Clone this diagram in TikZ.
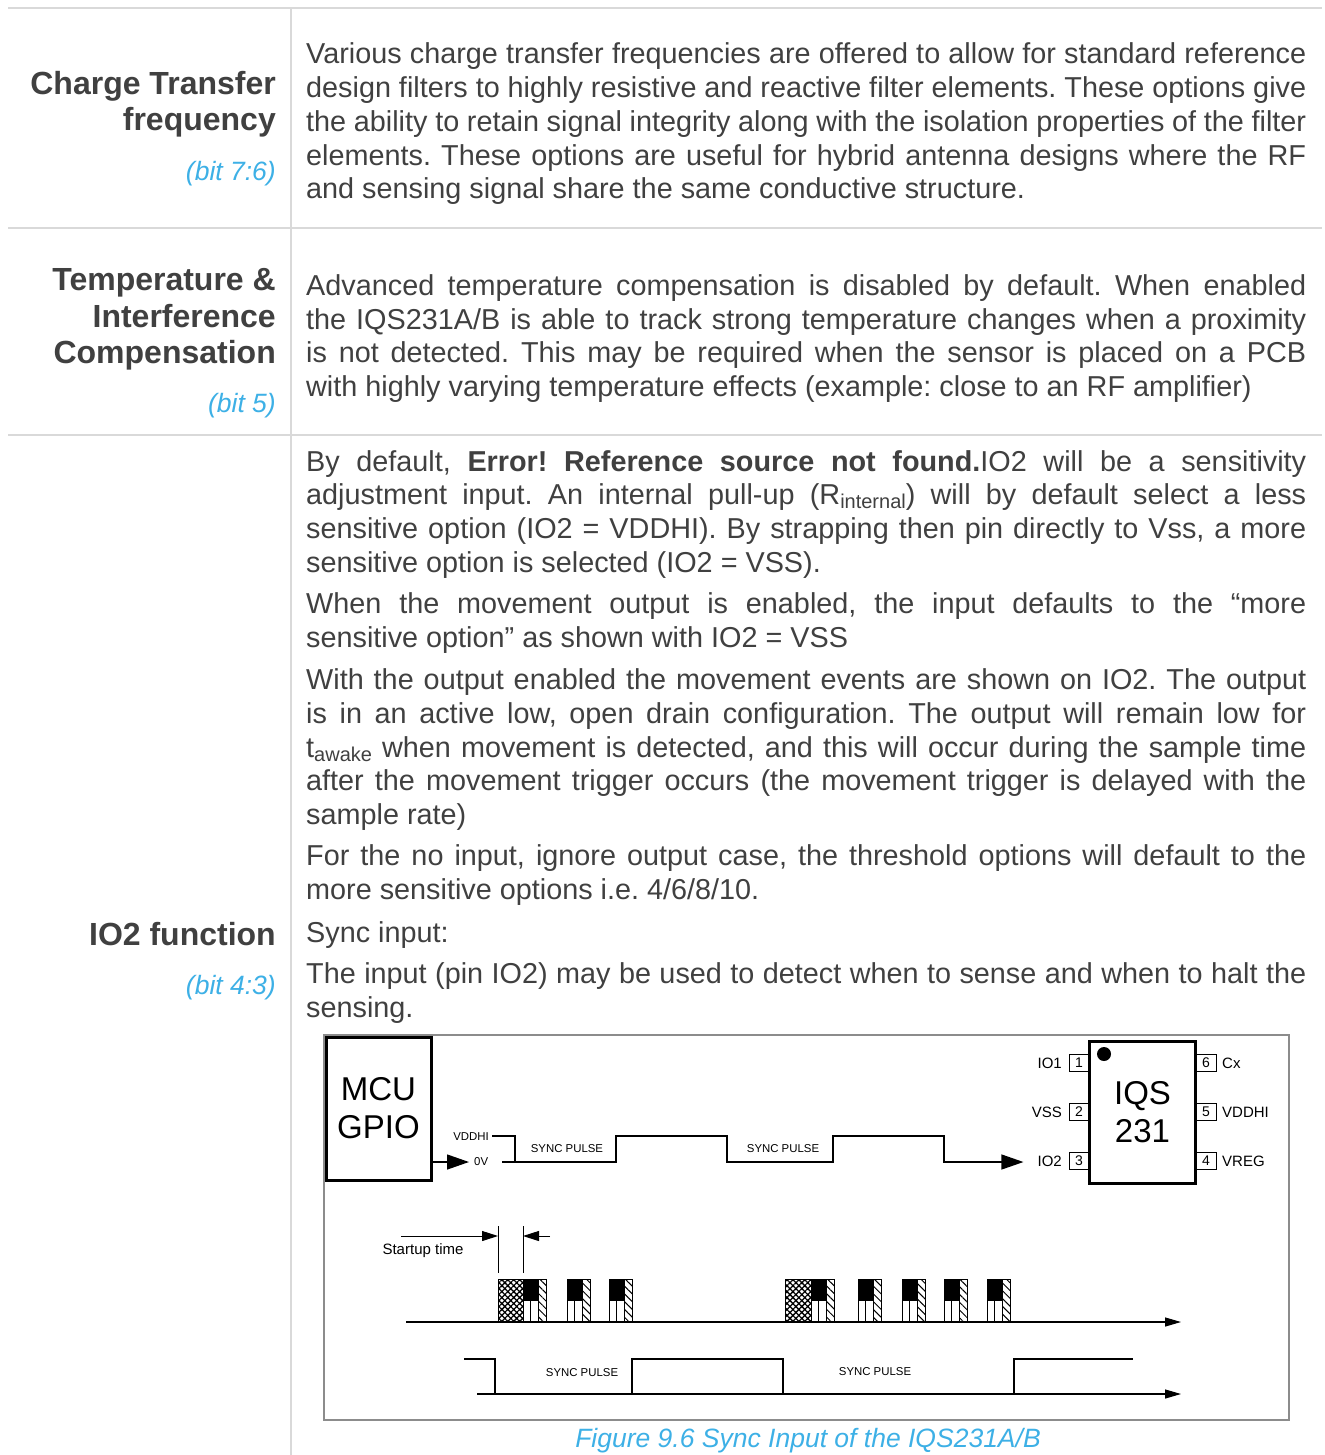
\documentclass[tikz,border=0pt]{standalone}
\usepackage{fontspec}
\setmainfont{Liberation Sans}
\usetikzlibrary{arrows.meta,patterns.meta}
\definecolor{txt}{HTML}{404040}
\definecolor{bluec}{HTML}{3DB0E6}
\definecolor{rulec}{HTML}{D9D9D9}
\definecolor{framec}{HTML}{8C8C8C}
\newcommand\bodyfnt{\fontsize{28.8}{34}\selectfont}
\newcommand\headfnt{\fontsize{32}{36}\selectfont\bfseries}
\newcommand\bitfnt{\fontsize{26.5}{30}\selectfont\itshape}
\newcommand\mysub[1]{\raisebox{-4pt}{\fontsize{20}{20}\selectfont #1}}
\newcommand\jline[1]{\makebox[1000pt][s]{#1}}
\frenchspacing
\begin{document}
\frenchspacing
\begin{tikzpicture}[x=1pt,y=-1pt,
  body/.style={anchor=base west,inner sep=0pt,text=txt,font=\bodyfnt},
  head/.style={anchor=base east,inner sep=0pt,text=txt,font=\headfnt},
  bitlbl/.style={anchor=base east,inner sep=0pt,text=bluec,font=\bitfnt},
  tblrule/.style={draw=rulec,line width=2.5pt},
  figframe/.style={draw=framec,line width=1.5pt},
  blkbox/.style={draw,line width=3pt,inner sep=0pt,align=center,font=\fontsize{33}{38}\selectfont},
  pinbox/.style={draw,line width=1pt,minimum width=20pt,minimum height=17pt,inner sep=0pt,font=\fontsize{14}{14}\selectfont},
  pinlbl/.style={inner sep=0pt,font=\fontsize{15}{15}\selectfont},
  small/.style={inner sep=0pt,font=\fontsize{11.4}{12}\selectfont},
  wave/.style={line width=1.3pt},
  sig/.style={line width=1.3pt,-{Triangle[length=22pt,width=15pt]}},
  sarrow/.style={line width=1pt,-{Triangle[length=16pt,width=10pt]}},
  axisline/.style={line width=1.2pt,-{Triangle[length=16pt,width=9pt]}},
  barbox/.style={draw,line width=0.9pt},
  hatchbar/.style={draw,line width=0.9pt,pattern={Lines[angle=-45,distance=5.5pt,line width=1pt]}},
  crossbar/.style={draw,line width=0.9pt,pattern={Hatch[angle=45,distance=4.2pt,line width=1.3pt]}}
]
\useasboundingbox (0,0) rectangle (1324,1455);
\clip (0,0) rectangle (1324,1455);
\fill[white] (0,0) rectangle (1324,1455);

% table rules
\draw[tblrule] (8,8) -- (1322,8);
\draw[tblrule] (8,228) -- (1322,228);
\draw[tblrule] (8,435) -- (1322,435);
\draw[draw=rulec,line width=2pt] (291,8) -- (291,1460);

% row 1
\node[head] (h1a) at (276,95) {Charge Transfer};
\node[head] (h1b) at (276,131) {frequency};
\node[bitlbl] (b1) at (276,181) {(bit 7:6)};
\node[body] (r1a) at (306,64) {\jline{Various charge transfer frequencies are offered to allow for standard reference}};
\node[body] (r1b) at (306,98) {\jline{design filters to highly resistive and reactive filter elements. These options give}};
\node[body] (r1c) at (306,132) {\jline{the ability to retain signal integrity along with the isolation properties of the filter}};
\node[body] (r1d) at (306,166) {\jline{elements. These options are useful for hybrid antenna designs where the RF}};
\node[body] (r1e) at (306,199) {and sensing signal share the same conductive structure.};

% row 2
\node[head] (h2a) at (276,290) {Temperature \&};
\node[head] (h2b) at (276,327) {Interference};
\node[head] (h2c) at (276,363) {Compensation};
\node[bitlbl] (b2) at (276,412) {(bit 5)};
\node[body] (r2a) at (306,295) {\jline{Advanced temperature compensation is disabled by default. When enabled}};
\node[body] (r2b) at (306,329) {\jline{the IQS231A/B is able to track strong temperature changes when a proximity}};
\node[body] (r2c) at (306,362) {\jline{is not detected. This may be required when the sensor is placed on a PCB}};
\node[body] (r2d) at (306,396) {with highly varying temperature effects (example: close to an RF amplifier)};

% row 3
\node[head] (h3a) at (276,945) {IO2 function};
\node[bitlbl] (b3) at (276,994) {(bit 4:3)};
\node[body] (p1a) at (306,471) {\jline{By default, \textbf{Error! Reference source not found.}IO2 will be a sensitivity}};
\node[body] (p1b) at (306,504) {\jline{adjustment input. An internal pull-up (R\mysub{internal}) will by default select a less}};
\node[body] (p1c) at (306,538) {\jline{sensitive option (IO2 = VDDHI). By strapping then pin directly to Vss, a more}};
\node[body] (p1d) at (306,572) {sensitive option is selected (IO2 = VSS).};
\node[body] (p2a) at (306,613) {\jline{When the movement output is enabled, the input defaults to the “more}};
\node[body] (p2b) at (306,647) {sensitive option” as shown with IO2 = VSS};
\node[body] (p3a) at (306,689) {\jline{With the output enabled the movement events are shown on IO2. The output}};
\node[body] (p3b) at (306,723) {\jline{is in an active low, open drain configuration. The output will remain low for}};
\node[body] (p3c) at (306,757) {\jline{t\mysub{awake} when movement is detected, and this will occur during the sample time}};
\node[body] (p3d) at (306,790) {\jline{after the movement trigger occurs (the movement trigger is delayed with the}};
\node[body] (p3e) at (306,824) {sample rate)};
\node[body] (p4a) at (306,865) {\jline{For the no input, ignore output case, the threshold options will default to the}};
\node[body] (p4b) at (306,899) {more sensitive options i.e. 4/6/8/10.};
\node[body] (p5) at (306,942) {Sync input:};
\node[body] (p6a) at (306,983) {\jline{The input (pin IO2) may be used to detect when to sense and when to halt the}};
\node[body] (p6b) at (306,1017) {sensing.};

% figure frame
\draw[figframe] (324,1035) rectangle (1289,1420);

% MCU block
\node[blkbox,minimum width=105pt,minimum height=143pt] (mcu) at (378.5,1108.5) {MCU\\GPIO};

% chip
\node[pinbox] (p1) at (1079,1063) {1};
\node[pinbox] (p2) at (1079,1112) {2};
\node[pinbox] (p3) at (1079,1161) {3};
\node[pinbox] (p6) at (1206,1063) {6};
\node[pinbox] (p5) at (1206,1112) {5};
\node[pinbox] (p4) at (1206,1161) {4};
\node[blkbox,fill=white,minimum width=106pt,minimum height=142pt] (chip) at (1142.5,1112.5) {IQS\\231};
\fill (1104,1054) circle (7pt);
\node[pinlbl,anchor=east] (lio1) at (1062,1063) {IO1};
\node[pinlbl,anchor=east] (lvss) at (1062,1112) {VSS};
\node[pinlbl,anchor=east] (lio2) at (1062,1161) {IO2};
\node[pinlbl,anchor=west] (lcx) at (1222,1063) {Cx};
\node[pinlbl,anchor=west] (lvdd) at (1222,1112) {VDDHI};
\node[pinlbl,anchor=west] (lvreg) at (1222,1161) {VREG};

% upper waveform
\node[small,anchor=east] (vdd) at (489,1137) {VDDHI};
\node[small,anchor=west] (ov) at (474,1162) {0V};
\node[small] (sp1) at (567,1149) {SYNC PULSE};
\node[small] (sp2) at (783,1149) {SYNC PULSE};
\draw[sig] (mcu.east |- ov) -- ([xshift=-5pt]ov.west);
\draw[wave] (492,1136) -- (515,1136) -- (515,1162) -- (616,1162) -- (616,1136) -- (727,1136) -- (727,1162) -- (833,1162) -- (833,1136) -- (944,1136) -- (944,1162) -- (985,1162);
\draw[wave] (502,1162) -- (515,1162);
\draw[sig] (985,1162) -- ([xshift=-14pt]lio2.west |- 985,1162);

% startup time
\node[pinlbl] (st) at (423,1251) {Startup time};
\draw[line width=1pt] (498,1226) -- (498,1273);
\draw[line width=1pt] (523,1226) -- (523,1273);
\draw[sarrow] (401,1236) -- (498,1236);
\draw[sarrow] (550,1236) -- (523,1236);

% bars
\draw[crossbar] (498,1279) rectangle (523,1322);
\draw[crossbar] (785,1279) rectangle (811,1322);
\foreach \x in {523,567,609,811,858,902,944,987}{
  \fill (\x,1279) rectangle (\x+15.5,1301);
  \draw[barbox] (\x,1279) rectangle (\x+7.7,1322);
  \draw[barbox] (\x+7.7,1279) rectangle (\x+15.5,1322);
  \draw[hatchbar] (\x+15.5,1279) rectangle (\x+23,1322);
}
\draw[axisline] (406,1322) -- (1181,1322);

% lower waveform
\draw[wave] (464,1359) -- (495,1359) -- (495,1394) -- (632,1394) -- (632,1359) -- (783,1359) -- (783,1394) -- (1014,1394) -- (1014,1359) -- (1133,1359);
\draw[axisline] (477,1394) -- (1181,1394);
\node[small] (sp3) at (582,1373) {SYNC PULSE};
\node[small] (sp4) at (875,1372) {SYNC PULSE};

% caption
\node[anchor=base,inner sep=0pt,text=bluec,font=\bitfnt] (cap) at (808,1447) {Figure 9.6 Sync Input of the IQS231A/B};
\end{tikzpicture}
\end{document}
